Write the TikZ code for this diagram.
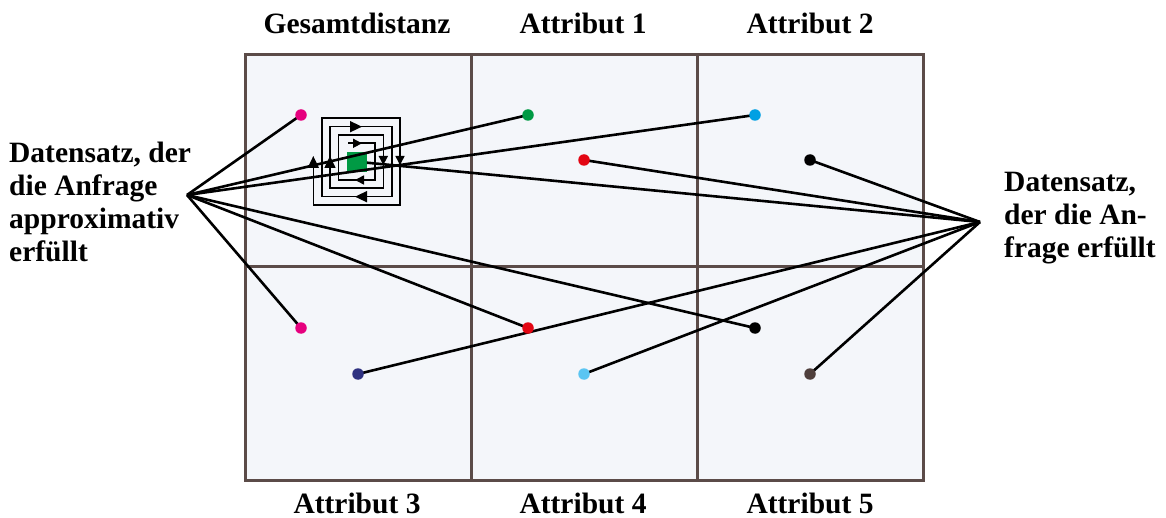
\documentclass[tikz,border=0pt]{standalone}
\usepackage{fontspec}
\setmainfont{Liberation Serif}
\usetikzlibrary{arrows.meta}
\definecolor{panelfill}{RGB}{244,246,250}
\definecolor{paneldraw}{RGB}{91,75,72}
\definecolor{cpink}{RGB}{230,0,126}
\definecolor{cgreen}{RGB}{0,154,68}
\definecolor{ccyan}{RGB}{0,160,227}
\definecolor{cred}{RGB}{227,6,19}
\definecolor{cnavy}{RGB}{46,49,128}
\definecolor{clight}{RGB}{91,197,242}
\definecolor{cbrown}{RGB}{79,63,60}
\tikzset{
  panel/.style={fill=panelfill, draw=paneldraw, line width=3pt},
  conn/.style={draw=black, line width=2.6pt},
  dotnode/.style={circle, inner sep=0pt, minimum size=11.5pt},
  spiral/.style={draw=black, line width=1.6pt},
  sparrow/.style={-{Triangle[length=12pt,width=11pt]}, line width=1.6pt},
  sparrowsmall/.style={-{Triangle[length=9pt,width=9pt]}, line width=1.6pt},
  lbl/.style={font=\fontsize{29.5}{33}\selectfont\bfseries, inner sep=0pt},
}
\begin{document}
\begin{tikzpicture}[x=1pt,y=-1pt]
\useasboundingbox (0,0) rectangle (1166,518);
% panels
\draw[panel] (245,55) rectangle (471,267);
\draw[panel] (471,55) rectangle (697,267);
\draw[panel] (697,55) rectangle (923,267);
\draw[panel] (245,267) rectangle (471,480);
\draw[panel] (471,267) rectangle (697,480);
\draw[panel] (697,267) rectangle (923,480);
% labels
\node[lbl, anchor=base] (tGes) at (357,34) {Gesamtdistanz};
\node[lbl, anchor=base] (tA1) at (583,34) {Attribut 1};
\node[lbl, anchor=base] (tA2) at (810,34) {Attribut 2};
\node[lbl, anchor=base] (tA3) at (357,513) {Attribut 3};
\node[lbl, anchor=base] (tA4) at (583,513) {Attribut 4};
\node[lbl, anchor=base] (tA5) at (810,513) {Attribut 5};
\node[lbl, anchor=north west, align=left] (tLeft) at (9,142)
  {Datensatz, der\\die Anfrage\\approximativ\\erfüllt};
\node[lbl, anchor=north west, align=left] (tRight) at (1004,172)
  {Datensatz,\\der die An-\\frage erfüllt};
% spiral
\draw[spiral] (348.3,143.3) -- (375,143.3) -- (375,180) -- (338.3,180) -- (338.3,135)
  -- (383.3,135) -- (383.3,188.3) -- (330,188.3) -- (330,126.7) -- (391.7,126.7)
  -- (391.7,196.7) -- (321.7,196.7) -- (321.7,118.3) -- (400,118.3) -- (400,205)
  -- (313.3,205) -- (313.3,168);
\draw[sparrow] (313.3,172) -- (313.3,156);
\draw[sparrowsmall] (349,143.3) -- (362,143.3);
\draw[sparrowsmall] (368,180) -- (355,180);
\draw[sparrowsmall] (383.3,150) -- (383.3,165);
\draw[sparrow] (330,172) -- (330,156);
\draw[sparrow] (345,126.7) -- (362,126.7);
\draw[sparrow] (372,196.7) -- (355,196.7);
\draw[sparrowsmall] (400,150) -- (400,165);
% hubs and dot positions
\coordinate (lhub) at (187,195);
\coordinate (rhub) at (980,222);
\coordinate (cP1) at (301,115);
\coordinate (cG1) at (528,115);
\coordinate (cC1) at (755,115);
\coordinate (cR1) at (584,160);
\coordinate (cK1) at (810,160);
\coordinate (cP2) at (301,328);
\coordinate (cR2) at (528,328);
\coordinate (cK2) at (755,328);
\coordinate (cN) at (358,374);
\coordinate (cL) at (584,374);
\coordinate (cB) at (810,374);
\node[fill=cgreen, inner sep=0pt, minimum size=20pt] (sq) at (356.7,161.7) {};
% connectors
\draw[conn] (lhub) -- (cP1);
\draw[conn] (lhub) -- (cG1);
\draw[conn] (lhub) -- (cC1);
\draw[conn] (lhub) -- (cP2);
\draw[conn] (lhub) -- (cR2);
\draw[conn] (lhub) -- (cK2);
\draw[conn] (sq) -- (rhub);
\draw[conn] (cR1) -- (rhub);
\draw[conn] (cK1) -- (rhub);
\draw[conn] (cN) -- (rhub);
\draw[conn] (cL) -- (rhub);
\draw[conn] (cB) -- (rhub);
% dots
\node[dotnode, fill=cpink] (dP1) at (cP1) {};
\node[dotnode, fill=cgreen] (dG1) at (cG1) {};
\node[dotnode, fill=ccyan] (dC1) at (cC1) {};
\node[dotnode, fill=cred] (dR1) at (cR1) {};
\node[dotnode, fill=black] (dK1) at (cK1) {};
\node[dotnode, fill=cpink] (dP2) at (cP2) {};
\node[dotnode, fill=cred] (dR2) at (cR2) {};
\node[dotnode, fill=black] (dK2) at (cK2) {};
\node[dotnode, fill=cnavy] (dN) at (cN) {};
\node[dotnode, fill=clight] (dL) at (cL) {};
\node[dotnode, fill=cbrown] (dB) at (cB) {};
\end{tikzpicture}
\end{document}
